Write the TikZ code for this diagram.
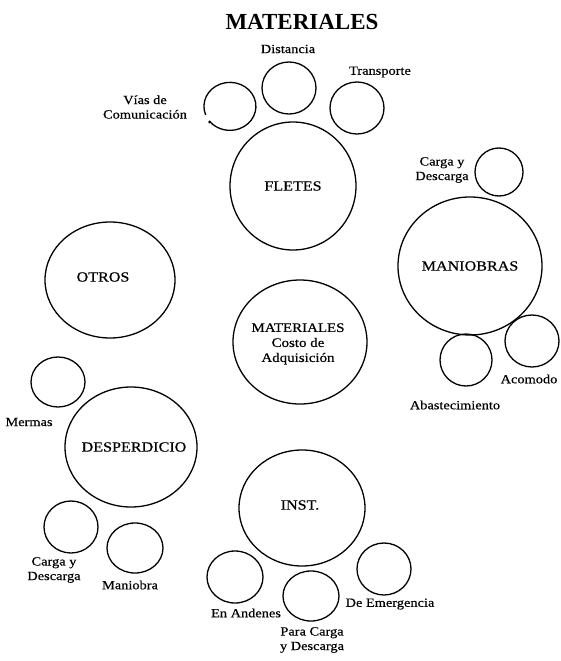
\documentclass[tikz,border=0pt]{standalone}
\usepackage{fontspec}
\setmainfont{Liberation Serif}
\newfontfamily\scanfont{Liberation Serif}[FakeStretch=1.15,FakeBold=0.5]
\usetikzlibrary{shapes.geometric}
\tikzset{
  ring/.style={draw, ellipse, line width=1.3pt, inner sep=0pt, minimum width=#1},
  ringline/.style={line width=1.3pt},
  lbl/.style={font=\scanfont\fontsize{12.5}{14.5}\selectfont, align=center, inner sep=0pt},
  inlbl/.style={font=\scanfont\fontsize{14}{15.5}\selectfont, align=center, inner sep=0pt},
  ttl/.style={font=\bfseries\fontsize{23}{26}\selectfont, inner sep=0pt}
}
\begin{document}
\begin{tikzpicture}[x=1pt,y=-1pt]
\useasboundingbox (0,0) rectangle (561,661);
% title
\node[ttl] (title) at (302,22) {MATERIALES};
% FLETES cluster
\node[ring=126pt, minimum height=128pt] (fletes) at (293,186) {};
\node[inlbl] (fletesT) at (293,186) {FLETES};
\node[ring=54pt, minimum height=52pt] (dist) at (289,88) {};
\node[ring=54pt, minimum height=52pt] (transp) at (357,108) {};
\coordinate (viasc) at (229,106);
\draw[ringline] (viasc) ++(159:25) arc[start angle=159, end angle=500, x radius=26, y radius=24];
\fill (viasc) ++(140.5:25) circle[radius=1.6];
\node[lbl] (distT) at (288,49) {Distancia};
\node[lbl] (transpT) at (380,72) {Transporte};
\node[lbl] (viasT) at (145,107) {Vías de\\Comunicación};
% MANIOBRAS cluster
\node[ring=144pt, minimum height=138pt] (maniob) at (470,266) {};
\node[inlbl] (maniobT) at (470,266) {MANIOBRAS};
\node[ring=48pt, minimum height=48pt] (cyd1) at (499,172) {};
\node[ring=54pt, minimum height=52pt] (acom) at (532,341) {};
\node[ring=52pt, minimum height=52pt] (abast) at (466,360) {};
\node[lbl] (cyd1T) at (442,170) {Carga y\\Descarga};
\node[lbl] (acomT) at (529,379) {Acomodo};
\node[lbl] (abastT) at (455,405) {Abastecimiento};
% OTROS
\node[ring=130pt, minimum height=116pt] (otros) at (110,280) {};
\node[inlbl] (otrosT) at (103,277) {OTROS};
% MATERIALES center
\node[ring=134pt, minimum height=124pt] (mat) at (300,342) {};
\node[inlbl, font=\scanfont\fontsize{13}{15}\selectfont] (matT) at (298,344) {MATERIALES\\Costo de\\Adquisición};
% DESPERDICIO cluster
\node[ring=132pt, minimum height=120pt] (desp) at (131,447) {};
\node[inlbl] (despT) at (134,447) {DESPERDICIO};
\node[ring=54pt, minimum height=50pt] (mermas) at (58,382) {};
\node[ring=54pt, minimum height=52pt] (cyd2) at (71,527) {};
\node[ring=56pt, minimum height=50pt] (maniobra) at (135,548) {};
\node[lbl] (mermasT) at (29,422) {Mermas};
\node[lbl] (cyd2T) at (54,570) {Carga y\\Descarga};
\node[lbl] (maniobraT) at (130,585) {Maniobra};
% INST cluster
\node[ring=126pt, minimum height=116pt] (inst) at (302,508) {};
\node[inlbl] (instT) at (300,505) {INST.};
\node[ring=56pt, minimum height=52pt] (anden) at (235,577) {};
\node[ring=56pt, minimum height=50pt] (para) at (311,596) {};
\node[ring=54pt, minimum height=52pt] (emerg) at (384,569) {};
\node[lbl] (andenT) at (246,613) {En Andenes};
\node[lbl] (paraT) at (312,640) {Para Carga\\y Descarga};
\node[lbl] (emergT) at (390,604) {De Emergencia};
\end{tikzpicture}
\end{document}
